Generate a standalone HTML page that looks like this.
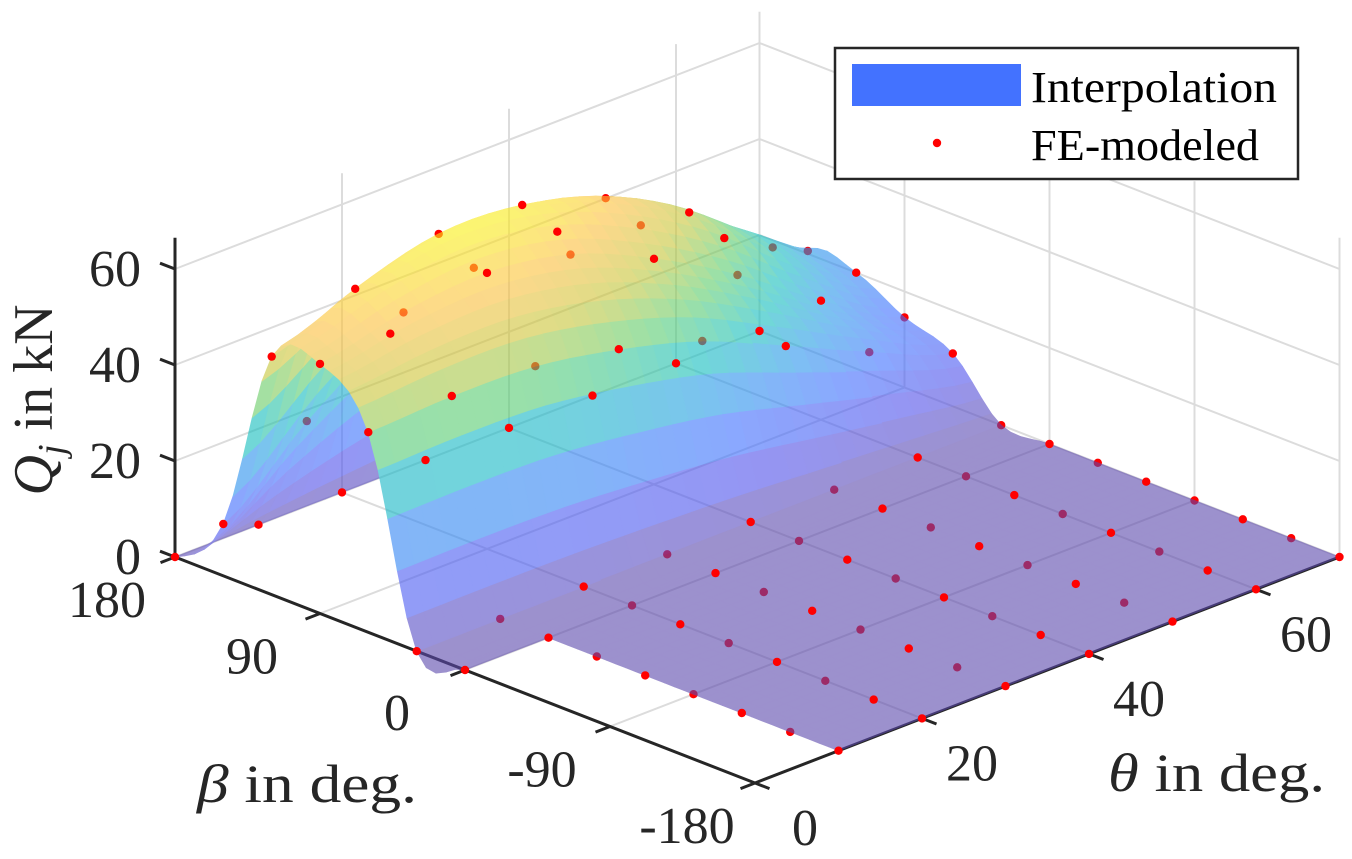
<!DOCTYPE html>
<html><head><meta charset="utf-8">
<style>
html,body{margin:0;padding:0;background:#fff;}
svg{display:block;}
text{font-family:"Liberation Serif","Times New Roman",serif;}
</style></head>
<body>
<svg id="chart" width="1352" height="859" viewBox="0 0 1352 859" xmlns="http://www.w3.org/2000/svg" font-family="Liberation Serif, serif">
<rect width="1352" height="859" fill="#fff"/>
<g id="grid"></g>
<g id="axes"></g>
<g id="dotsUnder"></g>
<g id="surf" opacity="0.6"></g>
<g id="dotsOver"></g>
<g id="labels"></g>
<text font-family="Liberation Serif, serif" transform="translate(52,400) rotate(-90)" text-anchor="middle" font-size="56" fill="#262626"><tspan font-style="italic">Q</tspan><tspan font-style="italic" font-size="38" dy="12">j</tspan><tspan dy="-12"> in kN</tspan></text>
<text font-family="Liberation Serif, serif" x="197" y="802" font-size="54" fill="#262626" textLength="220" lengthAdjust="spacingAndGlyphs"><tspan font-style="italic">β</tspan> in deg.</text>
<text font-family="Liberation Serif, serif" x="1108" y="791" font-size="54" fill="#262626" textLength="217" lengthAdjust="spacingAndGlyphs"><tspan font-style="italic">θ</tspan> in deg.</text>
<g>
<rect x="835" y="48" width="463" height="131" fill="#fff" stroke="#262626" stroke-width="2.5"/>
<rect x="852" y="64" width="169" height="42" fill="#4372ff"/>
<text font-family="Liberation Serif, serif" x="1031" y="102" font-size="44" fill="#000" textLength="246" lengthAdjust="spacingAndGlyphs">Interpolation</text>
<circle cx="937" cy="143" r="4.2" fill="#ff0000"/>
<text font-family="Liberation Serif, serif" x="1031" y="160" font-size="44" fill="#000" textLength="228" lengthAdjust="spacingAndGlyphs">FE-modeled</text>
</g>
</svg>
<script>
const betaVals=[180,150,120,90,60,30,0,-30,-60,-90,-120,-150,-180];
const thetaVals=[0,10,20,30,40,50,60,70];
const qTheta0 =[0,10.8,49.6,52,41.7,0,0,null,null,null,null,null,null];
const qTheta10=[0,25.5,57,56,42.5,0,0,0,0,0,0,0,0];
const qTheta20=[0,37,61.7,57.5,42,0,0,0,0,0,0,0,0];
const qTheta30=[0,44,61,54.6,38.8,0,0,0,0,0,0,0,0];
const qTheta40=[0,44.8,55.7,47,33.8,0,0,0,0,0,0,0,0];
const qTheta50=[0,39.4,46,36.9,26,0,0,0,0,0,0,0,0];
const qTheta60=[0,30,32,24.8,18,0,0,0,0,0,0,0,0];
const qTheta70=[0,20.6,20,14.6,11,0,0,0,0,0,0,0,0];
const zTicks=[0,20,40,60];
const betaTicks=[180,90,0,-90,-180];
const thetaTicks=[0,20,40,60];

const rows=[qTheta0,qTheta10,qTheta20,qTheta30,qTheta40,qTheta50,qTheta60,qTheta70];
const NS="http://www.w3.org/2000/svg";
const ZMAX=66.5, TMAX=70;
function P(beta,theta,z){const a=(180-beta)/360,b=theta/TMAX;return [175+580*a+584.5*b,557+226*a-226*b-4.8*z];}
function depth(beta,theta,z){const a=(180-beta)/360,b=theta/TMAX;return 534*(a-b)+2.03*z;}
function mk(tag,attrs,parent){const e=document.createElementNS(NS,tag);for(const k in attrs)e.setAttribute(k,attrs[k]);parent.appendChild(e);return e;}
function line(p,q,col,w,parent,name){const e=mk('line',{x1:p[0].toFixed(1),y1:p[1].toFixed(1),x2:q[0].toFixed(1),y2:q[1].toFixed(1),stroke:col,'stroke-width':w},parent);


return e;}

const grid=document.getElementById('grid');
const GC='#dcdcdc';
for(const z of zTicks){if(z===0)continue;line(P(180,0,z),P(180,TMAX,z),GC,2,grid,'left-wall-gridline');}
for(const t of [20,40,60,TMAX]){line(P(180,t,0),P(180,t,ZMAX),GC,2,grid,'left-wall-vertical-gridline');}
for(const z of zTicks){line(P(180,TMAX,z),P(-180,TMAX,z),GC,2,grid,'right-wall-gridline');}
for(const b of betaTicks){if(b===180)continue;line(P(b,TMAX,0),P(b,TMAX,ZMAX),GC,2,grid,'right-wall-vertical-gridline');}
for(const t of [20,40,60]){line(P(180,t,0),P(-180,t,0),GC,2,grid,'floor-gridline');}
for(const b of [90,0,-90]){line(P(b,0,0),P(b,TMAX,0),GC,2,grid,'floor-gridline');}
line(P(180,0,0),P(180,TMAX,0),GC,2,grid,'floor-edge');

const axes=document.getElementById('axes');
const AC='#262626';
line(P(180,0,0),P(180,0,ZMAX),AC,3,axes,'z-axis-line');
line(P(180,0,0),P(-180,0,0),AC,3,axes,'beta-axis-line');
line(P(-180,0,0),P(-180,TMAX,0),AC,3,axes,'theta-axis-line');
for(const z of zTicks){const p=P(180,0,z);line(p,[p[0]-15,p[1]-5.8],AC,3,axes,'z-tick');}
for(const b of betaTicks){const p=P(b,0,0);line(p,[p[0]-14.5,p[1]+5.6],AC,3,axes,'beta-tick');}
for(const t of thetaTicks){const p=P(-180,t,0);line(p,[p[0]+14.5,p[1]+5.6],AC,3,axes,'theta-tick');}

const labels=document.getElementById('labels');
function txt(s,x,y,anchor,name){const e=mk('text',{x:x,y:y,'text-anchor':anchor,'font-size':52,fill:'#262626','font-family':'Liberation Serif, serif'},labels);e.textContent=s;

}
for(const z of zTicks){const p=P(180,0,z);txt(String(z),141,p[1]+17,'end','z-tick-label');}
for(const b of betaTicks){const p=P(b,0,0);txt(String(b),p[0]-68,p[1]+60,'middle','beta-tick-label');}
for(const t of thetaTicks){const p=P(-180,t,0);txt(String(t),p[0]+50,p[1]+62,'middle','theta-tick-label');}

const NI=betaVals.length, NJ=thetaVals.length;
function G(j,i){i=Math.max(0,Math.min(NI-1,i));j=Math.max(0,Math.min(NJ-1,j));const v=rows[j][i];return v==null?0:v;}
function cr(p0,p1,p2,p3,t){return 0.5*((2*p1)+(-p0+p2)*t+(2*p0-5*p1+4*p2-p3)*t*t+(-p0+3*p1-3*p2+p3)*t*t*t);}
function val(u,v){const i=Math.min(NI-2,Math.floor(u)),j=Math.min(NJ-2,Math.floor(v));const tu=u-i,tv=v-j;const r=[];
for(let k=-1;k<=2;k++){r.push(cr(G(j+k,i-1),G(j+k,i),G(j+k,i+1),G(j+k,i+2),tu));}
return cr(r[0],r[1],r[2],r[3],tv);}
const S=5;
const fine=[];let zmx=0;
for(let fj=0;fj<=(NJ-1)*S;fj++){const row=[];for(let fi=0;fi<=(NI-1)*S;fi++){const z=val(fi/S,fj/S);row.push(z);if(z>zmx)zmx=z;}fine.push(row);}
const stops=[[0,92,73,173],[0.125,80,80,235],[0.25,62,111,255],[0.375,39,150,235],[0.5,18,190,190],[0.625,93,205,107],[0.75,198,198,56],[0.875,253,191,62],[1,249,240,20]];
function cmap(z){let t=Math.max(0,Math.min(1,z/zmx));for(let k=1;k<stops.length;k++){if(t<=stops[k][0]){const a=stops[k-1],b=stops[k];const f=(t-a[0])/(b[0]-a[0]);return 'rgb('+[1,2,3].map(c=>Math.round(a[c]+(b[c]-a[c])*f)).join(',')+')';}}return 'rgb(249,240,20)';}
function bOf(fi){return 180-30*fi/S;} function tOf(fj){return 10*fj/S;}
const quads=[];
for(let fj=0;fj<(NJ-1)*S;fj++){for(let fi=0;fi<(NI-1)*S;fi++){
const ci=Math.floor(fi/S),cj=Math.floor(fj/S);
if(cj===0&&ci>=6)continue;
const c=[[fi,fj],[fi+1,fj],[fi+1,fj+1],[fi,fj+1]];
let zs=0,d=0;const pts=c.map(q=>{const z=fine[q[1]][q[0]];zs+=z;d+=depth(bOf(q[0]),tOf(q[1]),z);return P(bOf(q[0]),tOf(q[1]),z);});
quads.push({pts:pts,z:zs/4,d:d/4});}}
quads.sort((a,b)=>a.d-b.d);
const surf=document.getElementById('surf');
for(const q of quads){const col=cmap(q.z);const e=mk('polygon',{points:q.pts.map(p=>p[0].toFixed(1)+','+p[1].toFixed(1)).join(' '),fill:col,stroke:col,'stroke-width':0.8,'stroke-linejoin':'round'},surf);

}

const du=document.getElementById('dotsUnder'),dov=document.getElementById('dotsOver');
for(let j=0;j<NJ;j++){for(let i=0;i<NI;i++){const v=rows[j][i];if(v==null)continue;
const p=P(betaVals[i],thetaVals[j],v);const parent=((i+j)%2===0&&i>0&&i<NI-1&&j>0)?du:dov;
const e=mk('circle',{cx:p[0].toFixed(1),cy:p[1].toFixed(1),r:4.2,fill:'#ff0000'},parent);

}}
</script>
</body></html>
